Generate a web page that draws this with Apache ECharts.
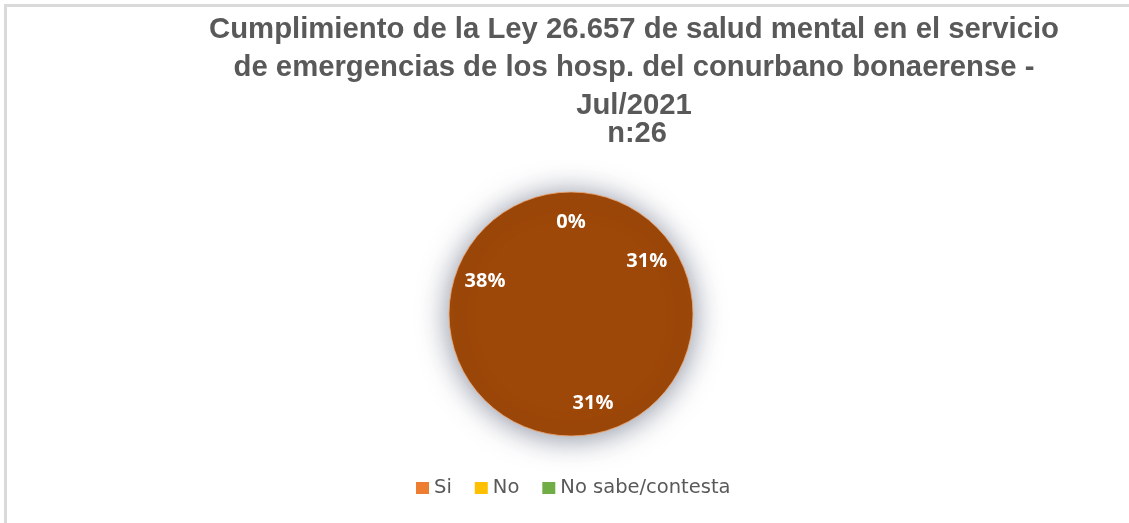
<!DOCTYPE html>
<html>
<head>
<meta charset="utf-8">
<script src="https://cdn.jsdelivr.net/npm/echarts@6/dist/echarts.min.js"></script>
<style>
  html, body { margin: 0; padding: 0; background: #ffffff; }
  #chart { width: 1129px; height: 523px; }
</style>
</head>
<body>
<div id="chart"></div>
<script>
// Respuestas (n = 26), en el orden en que se dibujan las porciones
const categories = ['', 'Si', 'No', 'No sabe/contesta'];
const values = [0, 8, 8, 10];

// Entradas de la leyenda y sus colores
const legendNames = ['Si', 'No', 'No sabe/contesta'];
const legendColors = ['#ED7D31', '#FFC000', '#70AD47'];

const titleLines = [
  'Cumplimiento de la Ley 26.657 de salud mental en el servicio',
  'de emergencias de los hosp. del conurbano bonaerense -',
  'Jul/2021'
];
const subtitle = 'n:26';

const sliceColor = '#9D4709';
const pieCenter = [571, 314];
const pieRadius = 122;

const chart = echarts.init(document.getElementById('chart'), null, { renderer: 'canvas' });

const pieData = categories.map((name, i) => ({ name: name, value: values[i] }));
const total = values.reduce((a, b) => a + b, 0);

chart.setOption({
  backgroundColor: '#ffffff',
  animation: false,
  graphic: [{
    type: 'rect',
    silent: true,
    shape: { x: 5.5, y: 5.5, width: 1200, height: 600 },
    style: { fill: 'none', stroke: '#dadada', lineWidth: 3 }
  }],
  title: [{
    text: titleLines.join('\n'),
    left: 629,
    top: 6,
    textAlign: 'center',
    textStyle: {
      fontFamily: '"Liberation Sans", Arial, sans-serif',
      fontWeight: 'bold',
      fontSize: 29.3,
      lineHeight: 38,
      color: '#595959'
    }
  }, {
    text: subtitle,
    left: 632,
    top: 113,
    textAlign: 'center',
    textStyle: {
      fontFamily: '"Liberation Sans", Arial, sans-serif',
      fontWeight: 'bold',
      fontSize: 29,
      lineHeight: 32,
      color: '#595959'
    }
  }],
  legend: {
    left: 411,
    top: 473,
    orient: 'horizontal',
    itemWidth: 13,
    itemHeight: 12,
    itemGap: 23,
    icon: 'rect',
    selectedMode: false,
    textStyle: {
      fontFamily: '"DejaVu Sans", sans-serif',
      fontSize: 19.5,
      color: '#595959'
    },
    data: legendNames.map((n, i) => ({ name: n, itemStyle: { color: legendColors[i] } }))
  },
  series: [{
    // disco completo con sombra suave, sin divisiones visibles
    type: 'pie',
    silent: true,
    center: pieCenter,
    radius: [0, pieRadius],
    label: { show: false },
    labelLine: { show: false },
    itemStyle: {
      color: sliceColor,
      borderColor: 'rgba(240,170,120,0.8)',
      borderWidth: 1,
      shadowBlur: 30,
      shadowColor: 'rgba(60,70,95,0.6)',
      shadowOffsetX: 0,
      shadowOffsetY: 2
    },
    emphasis: { disabled: true },
    data: [{ name: 'total', value: total }]
  }, {
    // porciones con las etiquetas de porcentaje
    type: 'pie',
    silent: true,
    center: pieCenter,
    radius: [56, pieRadius],
    startAngle: 90,
    clockwise: true,
    percentPrecision: 0,
    avoidLabelOverlap: false,
    itemStyle: { color: 'rgba(0,0,0,0)', borderWidth: 0 },
    label: {
      show: true,
      position: 'inside',
      formatter: '{d}%',
      color: '#ffffff',
      fontFamily: '"Open Sans", sans-serif',
      fontWeight: 'bold',
      fontSize: 20
    },
    labelLine: { show: false },
    emphasis: { disabled: true },
    data: pieData
  }]
});
</script>
</body>
</html>
